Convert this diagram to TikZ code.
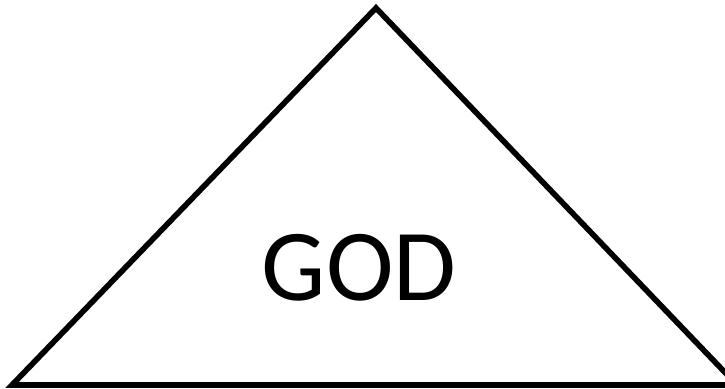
\documentclass[tikz,border=0pt]{standalone}
\usepackage{fontspec}
\setmainfont{Carlito}
\usepackage{xcolor}
\usetikzlibrary{calc,positioning}
\definecolor{godBlack}{RGB}{0,0,0}

\begin{document}
\begin{tikzpicture}[x=0.01cm,y=-0.01cm]

% =========================
% frame
% =========================
\useasboundingbox (0,0) rectangle (725,389);
\clip (0,0) rectangle (725,389);

% =========================
% triangle
% =========================
\draw[godBlack, line width=1.6pt, line join=miter]
    (12,385) -- (376,8) -- (737,385) -- cycle;

\node[text=godBlack, font=\fontsize{29}{32}\selectfont] (god) at (359,268) {GOD};

\end{tikzpicture}
\end{document}
